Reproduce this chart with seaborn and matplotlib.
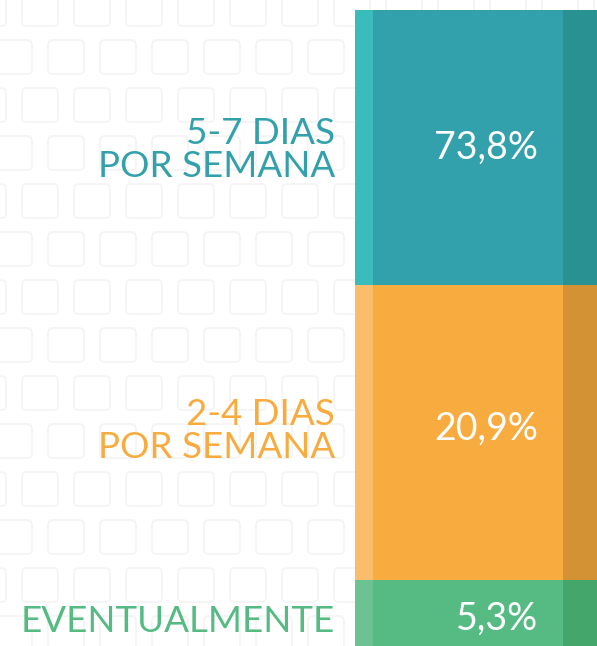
import matplotlib
matplotlib.use('Agg')
import matplotlib.pyplot as plt
import seaborn as sns
from matplotlib.patches import FancyBboxPatch

sns.set_theme(style='white')
plt.rcParams['font.family'] = ['Lato', 'DejaVu Sans']

# data (top to bottom)
labels = ['5-7 DIAS\nPOR SEMANA', '2-4 DIAS\nPOR SEMANA', 'EVENTUALMENTE']
values = [73.8, 20.9, 5.3]
bar_units = [275, 295, 66]   # segment heights as drawn in the infographic (not proportional)
main_colors = ['#33A1AB', '#F8AB3E', '#55BB83']
light_colors = ['#3BBCBC', '#FABD6B', '#6BC393']
dark_colors = ['#2A9192', '#D39335', '#45A66B']

W, H = 597, 646
fig = plt.figure(figsize=(W / 100, H / 100), dpi=100)
fig.patch.set_facecolor('white')

# faint speech-bubble background pattern
bg = fig.add_axes([0, 0, 1, 1], zorder=0)
bg.set_xlim(0, W)
bg.set_ylim(H, 0)
bg.axis('off')
for r, y in enumerate(range(-8, H, 48)):
    off = 0 if r % 2 == 0 else 26
    for x in range(-30 + off, W, 52):
        bg.add_patch(FancyBboxPatch((x, y), 36, 34, boxstyle='round,pad=0,rounding_size=5',
                                    fill=False, ec='#F4F4F4', lw=1.3))

# stacked bar
x0, top = 355, 10
ax = fig.add_axes([x0 / W, 0, 1 - x0 / W, (H - top) / H], zorder=1)
total = sum(bar_units)
bottoms = [sum(bar_units[:i]) for i in range(len(bar_units))]
for i in range(len(values)):
    sns.barplot(x=[0], y=[bar_units[i]], bottom=bottoms[i], width=1, color=main_colors[i],
                saturation=1, linewidth=0, ax=ax)
    ax.bar(-0.5, bar_units[i], bottom=bottoms[i], width=18 / 242, align='edge',
           color=light_colors[i], linewidth=0)
    ax.bar(0.5, bar_units[i], bottom=bottoms[i], width=-34 / 242, align='edge',
           color=dark_colors[i], linewidth=0)
ax.set_xlim(-0.5, 0.5)
ax.set_ylim(total, 0)
ax.axis('off')

# texts
tx = fig.add_axes([0, 0, 1, 1], zorder=2)
tx.set_xlim(0, W)
tx.set_ylim(H, 0)
tx.axis('off')
tx.patch.set_visible(False)
centers = [150, 431, 621]
for i, (lab, val) in enumerate(zip(labels, values)):
    y = centers[i]
    tx.text(335, y, lab, ha='right', va='center', color=main_colors[i], fontsize=26.5,
            fontweight='normal', linespacing=0.98)
    tx.text(538, y - 2, f'{val:.1f}%'.replace('.', ','), ha='right', va='center',
            color='white', fontsize=27, fontweight='normal')

fig.savefig('out.png', dpi=100, facecolor='white')
